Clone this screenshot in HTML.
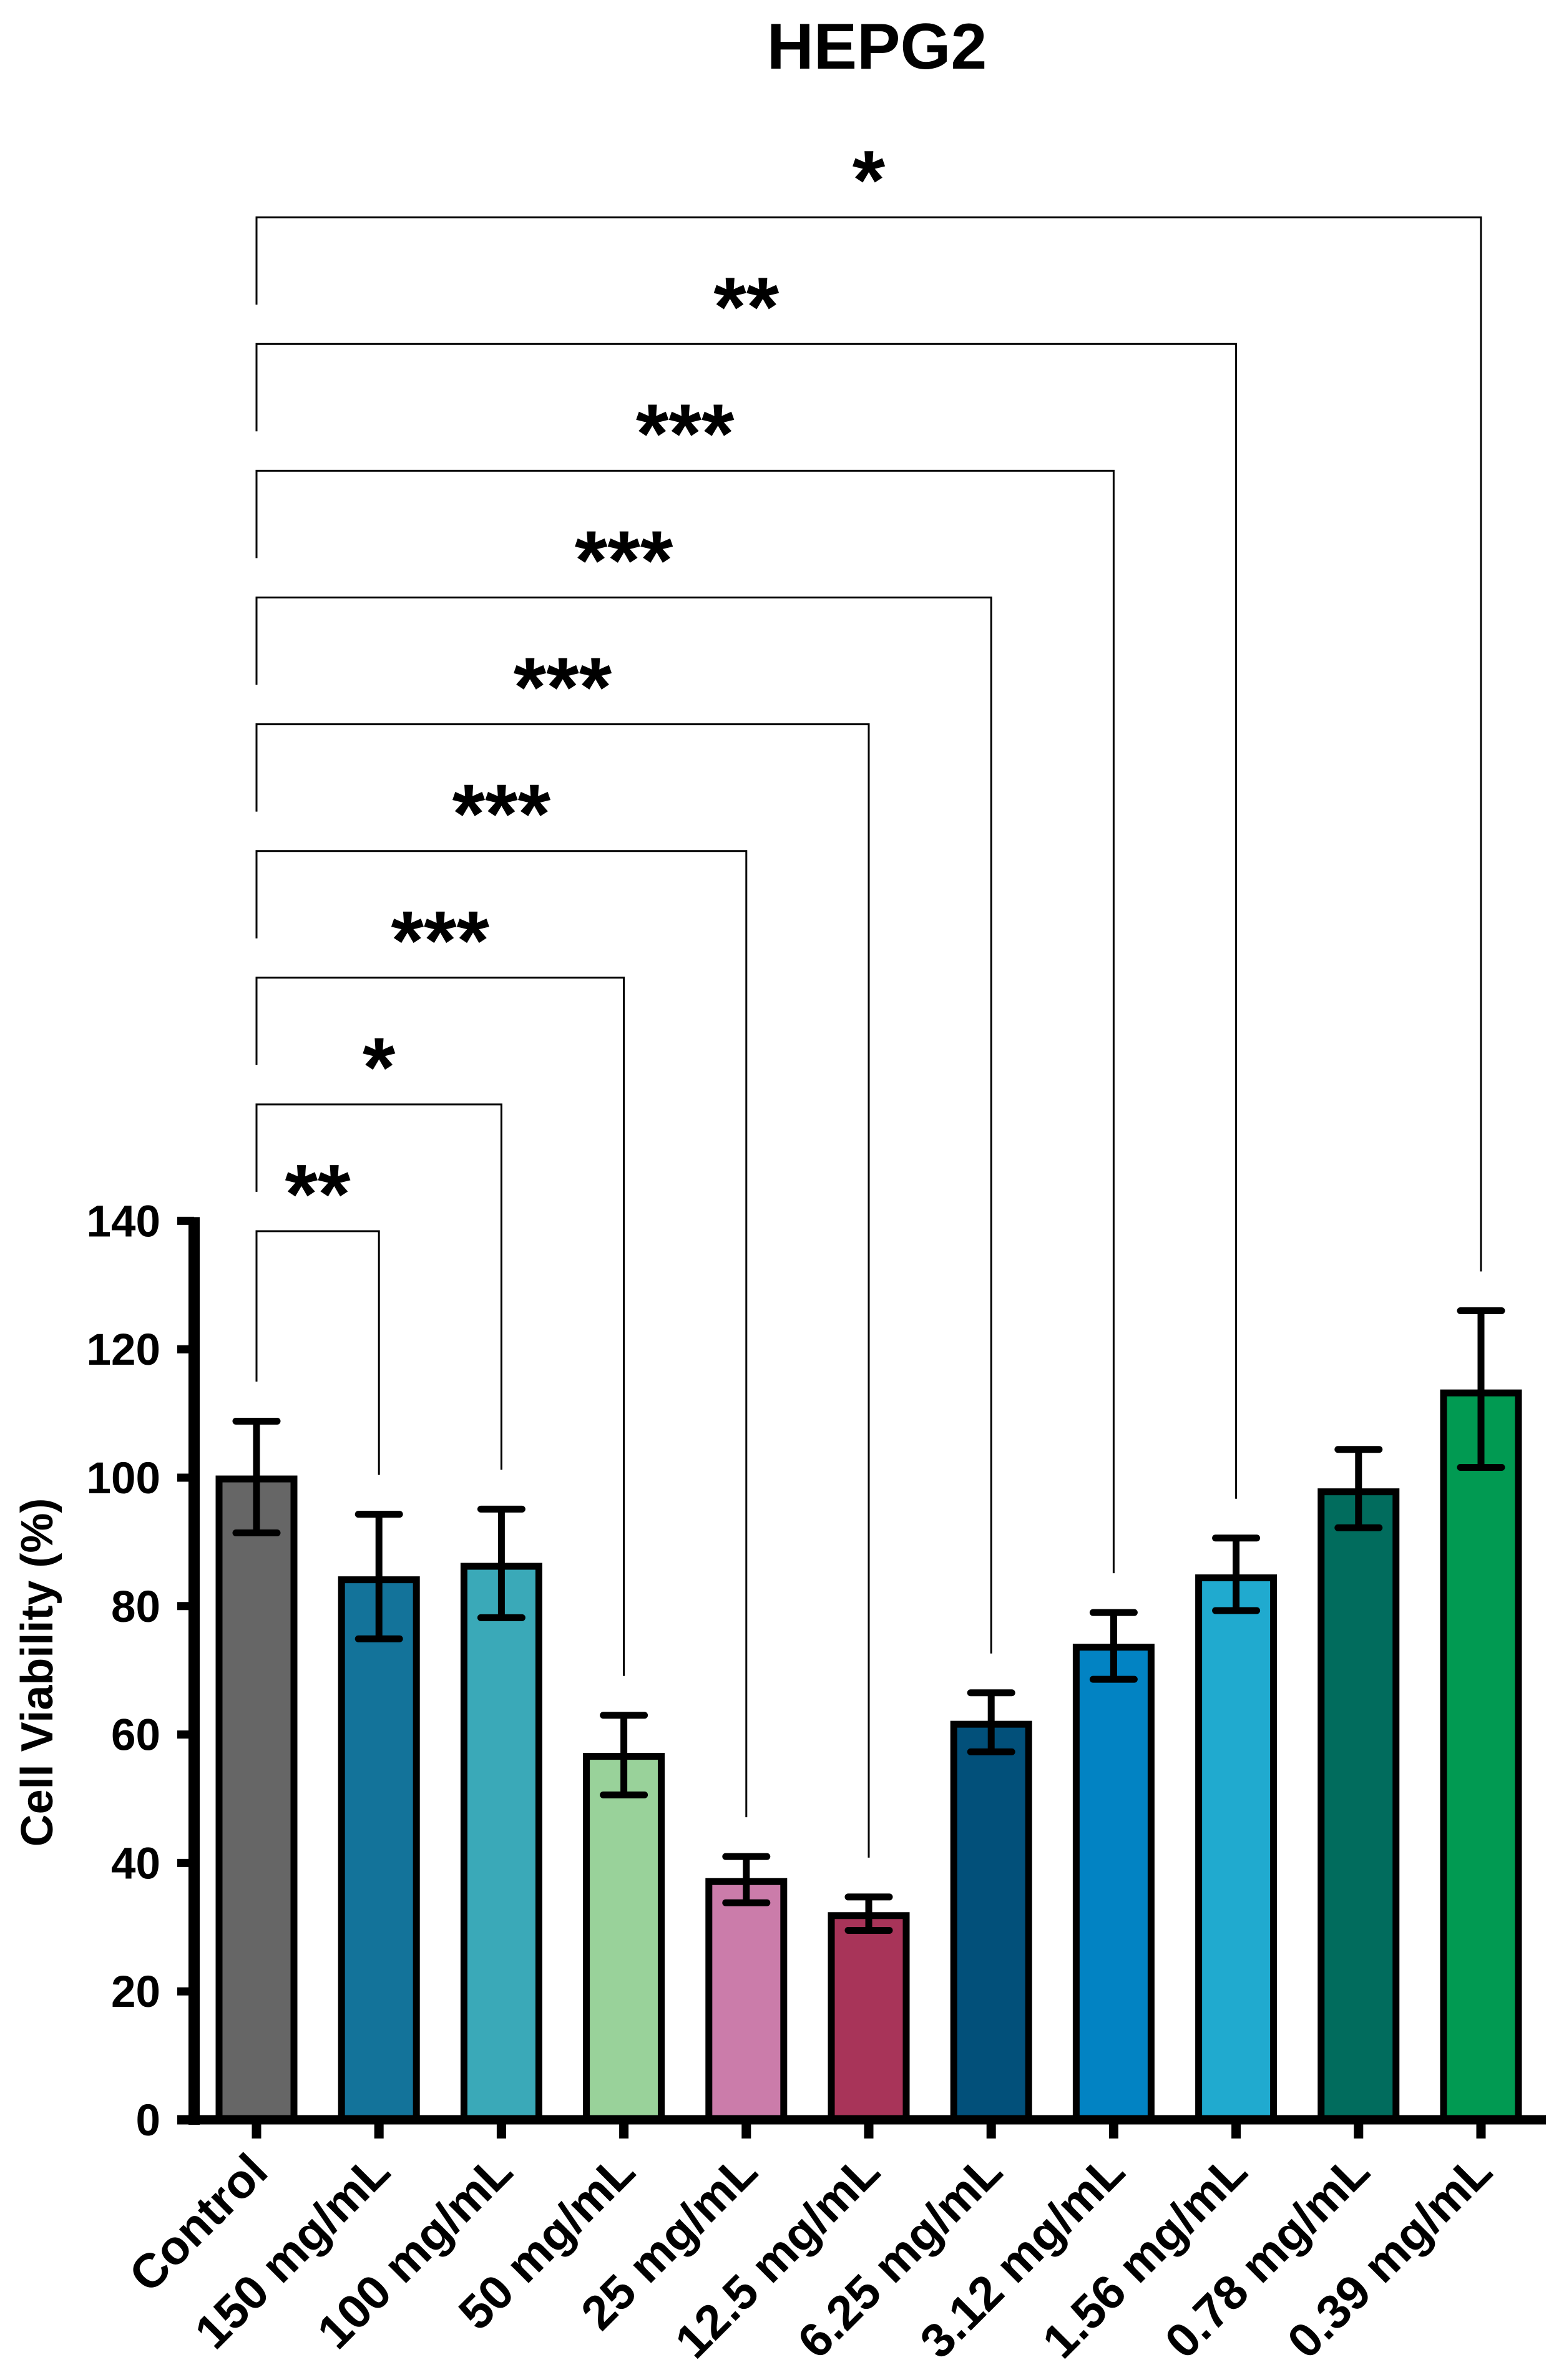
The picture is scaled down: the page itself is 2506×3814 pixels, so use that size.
<!DOCTYPE html>
<html><head><meta charset="utf-8"><style>
html,body{margin:0;padding:0;background:#fff;}
svg{display:block;}
text{font-family:"Liberation Sans",Arial,sans-serif;font-weight:bold;fill:#000;}
</style></head><body>
<svg id="chart" width="2506" height="3814" viewBox="0 0 2506 3814" xmlns="http://www.w3.org/2000/svg">
<text x="1405" y="110" font-size="104" text-anchor="middle">HEPG2</text>
<text transform="translate(84,2680) rotate(-90)" font-size="72" text-anchor="middle">Cell Viability (%)</text>
<g id="plot"></g>
</svg>
<script>
const categories = ["Control","150 mg/mL","100 mg/mL","50 mg/mL","25 mg/mL","12.5 mg/mL","6.25 mg/mL","3.12 mg/mL","1.56 mg/mL","0.78 mg/mL","0.39 mg/mL"];
const means = [99.8, 84.1, 86.2, 56.6, 37.1, 31.8, 61.6, 73.6, 84.4, 97.8, 113.2];
const errHigh = [108.8, 94.3, 95.1, 63, 41, 34.7, 66.5, 79, 90.6, 104.4, 126];
const errLow = [91.4, 74.9, 78.2, 50.6, 33.8, 29.5, 57.3, 68.6, 79.3, 92.2, 101.6];
const colors = ["#666666","#13739a","#3aa9b8","#99d29a","#cb7caa","#a83459","#02507a","#0283c3","#20aacf","#016c5d","#019a52"];
const yTicks = [0,20,40,60,80,100,120,140];
const sigTargets = [1,2,3,4,5,6,7,8,10];
const sigLabels = ["**","*","***","***","***","***","***","**","*"];

const NS = "http://www.w3.org/2000/svg";
const g = document.getElementById('plot');
const y0 = 3397, yPerUnit = 10.29;
const yScale = v => y0 - v * yPerUnit;
const x0 = 411, step = 196.2;
const xScale = i => x0 + i * step;
function mk(tag, attrs){const e=document.createElementNS(NS,tag);for(const k in attrs)e.setAttribute(k,attrs[k]);g.appendChild(e);return e;}

categories.forEach((c,i)=>{
  const x=xScale(i), top=yScale(means[i]);
  const r=mk('rect',{x:x-60,y:top,width:120,height:y0-top,fill:colors[i],stroke:'#000','stroke-width':11});
  
  
  const eh=yScale(errHigh[i]), el=yScale(errLow[i]);
  const v=mk('line',{x1:x,x2:x,y1:eh,y2:el,stroke:'#000','stroke-width':11});
  
  
  [eh,el].forEach(yy=>{
    const cap=mk('line',{x1:x-33,x2:x+33,y1:yy,y2:yy,stroke:'#000','stroke-width':11,'stroke-linecap':'round'});
    
    
  });
});

const ya=mk('line',{x1:311,x2:311,y1:yScale(140)-6,y2:y0+8,stroke:'#000','stroke-width':18});


const xa=mk('line',{x1:284,x2:2477,y1:y0,y2:y0,stroke:'#000','stroke-width':15});


yTicks.forEach(t=>{
  const yy=yScale(t);
  const tk=mk('line',{x1:284,x2:311,y1:yy,y2:yy,stroke:'#000','stroke-width':13});
  
  
  const lb=mk('text',{x:257,y:yy+25,'font-size':71,'text-anchor':'end'});
  lb.textContent=t;
  
  
});
categories.forEach((c,i)=>{
  const x=xScale(i);
  const tk=mk('line',{x1:x,x2:x,y1:y0,y2:3427,stroke:'#000','stroke-width':15});
  
  
  const lb=mk('text',{transform:`translate(${x+22},3484) rotate(-45)`,'font-size':77,'text-anchor':'end'});
  lb.textContent=c;
  
  
});

sigTargets.forEach((ti,k)=>{
  const by=1973-k*203.1;
  const leftEnd = k===0 ? 2214 : by+140;
  const rightEnd = yScale(errHigh[ti])-63;
  const p=mk('path',{d:`M${x0},${leftEnd} V${by} H${xScale(ti)} V${rightEnd}`,fill:'none',stroke:'#000','stroke-width':3});
  
  
  const t=mk('text',{x:(x0+xScale(ti))/2,y:by-13,'font-size':135,'text-anchor':'middle'});
  t.textContent=sigLabels[k];
  
  
});
</script>
</body></html>
